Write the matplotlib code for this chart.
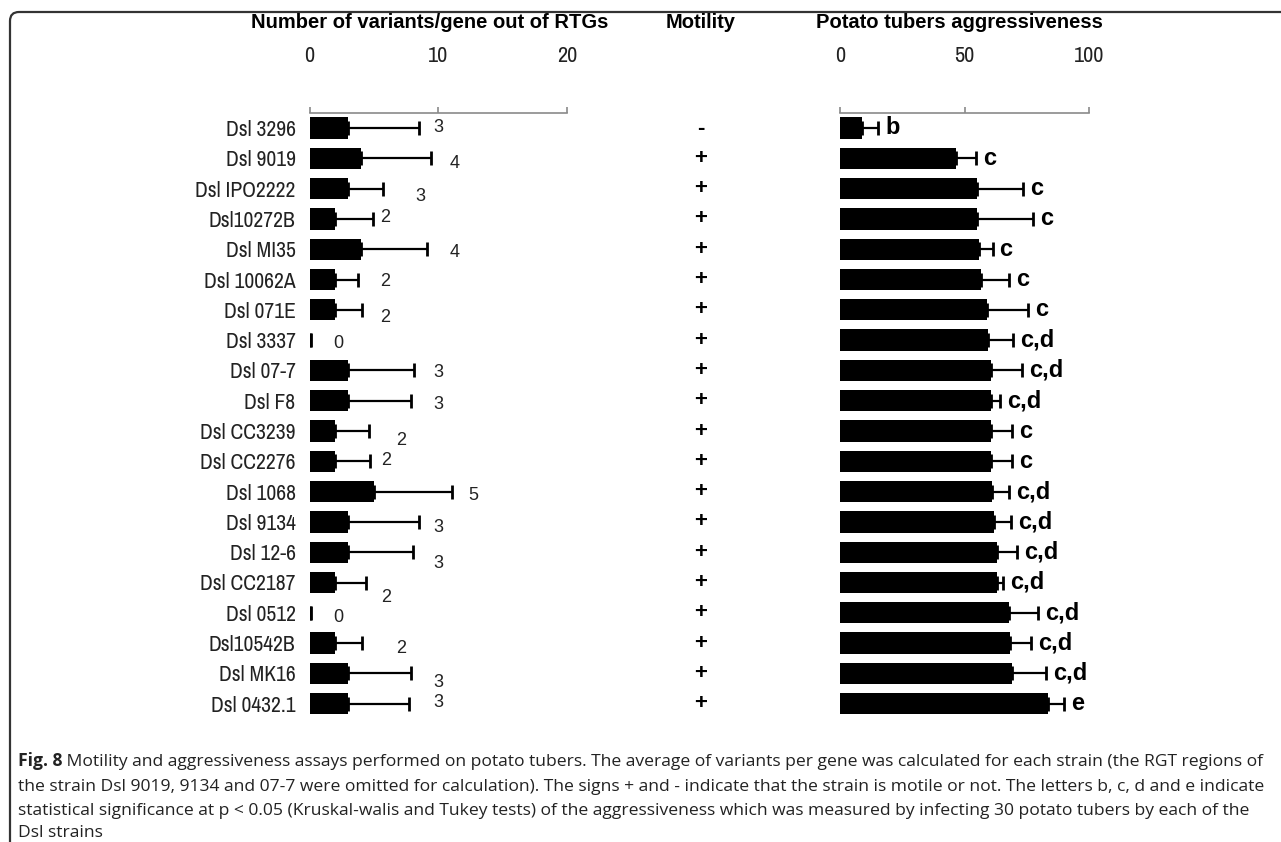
import numpy as np
import matplotlib
matplotlib.use("Agg")
from matplotlib import pyplot as plt
from matplotlib import font_manager, transforms
from matplotlib.patches import FancyBboxPatch

# strains, top to bottom
strains = ["Dsl 3296", "Dsl 9019", "Dsl IPO2222", "Dsl10272B", "Dsl MI35",
           "Dsl 10062A", "Dsl 071E", "Dsl 3337", "Dsl 07-7", "Dsl F8",
           "Dsl CC3239", "Dsl CC2276", "Dsl 1068", "Dsl 9134", "Dsl 12-6",
           "Dsl CC2187", "Dsl 0512", "Dsl10542B", "Dsl MK16", "Dsl 0432.1"]

# variants per gene out of RTGs
variants = [3, 4, 3, 2, 4, 2, 2, 0, 3, 3, 2, 2, 5, 3, 3, 2, 0, 2, 3, 3]
variants_err = [5.5, 5.4, 2.7, 2.9, 5.1, 1.8, 2.1, 0.15, 5.1, 4.9,
                2.6, 2.7, 6.1, 5.5, 5.0, 2.4, 0.15, 2.1, 4.9, 4.7]
# label positions (data x) and vertical nudges (rows) as in the original
variants_lbl_x = [9.6, 10.85, 8.2, 5.5, 10.85, 5.5, 5.5, 1.86, 9.6, 9.6,
                  6.74, 5.6, 12.3, 9.6, 9.6, 5.6, 1.86, 6.74, 9.6, 9.6]
variants_lbl_dy = [0, .17, .26, -.03, .1, .07, .26, .1, .07, .13,
                   .33, -.03, .13, .17, .36, .5, .17, .17, .3, -.03]

motility = ["-"] + ["+"] * 19

# potato tubers aggressiveness
aggr = [8.8, 46.6, 55.0, 55.0, 55.9, 56.6, 59.0, 59.5, 60.6, 60.6,
        60.6, 60.6, 61.0, 61.9, 63.0, 63.2, 68.0, 68.3, 69.0, 83.5]
aggr_err = [6.5, 8.0, 18.5, 22.5, 5.4, 11.3, 16.5, 10.1, 12.4, 3.7,
            8.4, 8.4, 7.0, 6.7, 8.0, 2.4, 11.6, 8.3, 13.7, 6.5]
groups = ["b", "c", "c", "c", "c", "c", "c", "c,d", "c,d", "c,d",
          "c", "c", "c,d", "c,d", "c,d", "c,d", "c,d", "c,d", "c,d", "e"]

caption_lines = [
    "Motility and aggressiveness assays performed on potato tubers. The average of variants per gene was calculated for each strain (the RGT regions of",
    "the strain Dsl 9019, 9134 and 07-7 were omitted for calculation). The signs + and - indicate that the strain is motile or not. The letters b, c, d and e indicate",
    "statistical significance at p < 0.05 (Kruskal-walis and Tukey tests) of the aggressiveness which was measured by infecting 30 potato tubers by each of the",
    "Dsl strains",
]


def pick_font(names):
    for n in names:
        try:
            font_manager.findfont(n, fallback_to_default=False)
            return n
        except Exception:
            pass
    return "DejaVu Sans"


NARROW = pick_font(["Archivo Narrow", "Liberation Sans Narrow", "Liberation Sans"])
ARIAL = pick_font(["Liberation Sans", "Arial"])
CAPF = pick_font(["Open Sans", "Noto Sans"])

W, H = 1281, 842
fig = plt.figure(figsize=(W / 100, H / 100), dpi=100)

# panel frame with rounded top-left corner
frame = FancyBboxPatch((10, -30), 1400, H - 12 + 30,
                       boxstyle="round,pad=0,rounding_size=9",
                       transform=None, fill=False, ec="#333333", lw=1.6)
fig.patches.append(frame)

ax_top, ax_bot = 113, 720
row0, dy = 128, 30.3
ylim = (19 + (ax_bot - row0 - 19 * dy) / dy, -(row0 - ax_top) / dy)


def make_axes(x0, x1):
    return fig.add_axes([x0 / W, (H - ax_bot) / H, (x1 - x0) / W, (ax_bot - ax_top) / H])


y = np.arange(len(strains))

# left panel: variants per gene
ax1 = make_axes(309.5, 567)
ax1.barh(y, variants, height=0.7, color="black")
ax1.errorbar(variants, y, xerr=[np.zeros(len(y)), variants_err], fmt="none",
             ecolor="black", elinewidth=1.6, capsize=5, capthick=2)
for i, v in enumerate(variants):
    ax1.text(variants_lbl_x[i], y[i] + variants_lbl_dy[i], str(v), fontsize=13,
             family=ARIAL, color="#222222", ha="left", va="center")
ax1.set_xlim(0, 20)
ax1.set_xticks([0, 10, 20])
ax1.set_ylim(*ylim)
ax1.set_yticks(y)
ax1.set_yticklabels(strains, family=NARROW, fontsize=15.5, color="#222222")
ax1.tick_params(axis="y", length=0, pad=10)

# right panel: aggressiveness
ax2 = make_axes(840, 1089)
ax2.barh(y, aggr, height=0.7, color="black")
ax2.errorbar(aggr, y, xerr=[np.zeros(len(y)), aggr_err], fmt="none",
             ecolor="black", elinewidth=1.6, capsize=5, capthick=2)
for i in range(len(y)):
    ax2.annotate(groups[i], (aggr[i] + aggr_err[i], y[i]), xytext=(5, 0),
                 textcoords="offset points", fontsize=17, fontweight="bold",
                 family=ARIAL, ha="left", va="center")
ax2.set_xlim(0, 100)
ax2.set_xticks([0, 50, 100])
ax2.set_ylim(*ylim)
ax2.set_yticks([])

for ax in (ax1, ax2):
    for s in ("left", "right", "bottom"):
        ax.spines[s].set_visible(False)
    ax.spines["top"].set_color("#8a8a8a")
    ax.spines["top"].set_linewidth(1.2)
    ax.xaxis.tick_top()
    ax.tick_params(axis="x", direction="out", length=4, width=1.2, color="#8a8a8a",
                   pad=30, labelsize=16, labelcolor="#222222")
    for lab in ax.get_xticklabels():
        lab.set_family(NARROW)
    ax.patch.set_alpha(0)

# motility column
tr = transforms.blended_transform_factory(fig.transFigure, ax1.transData)
for i, m in enumerate(motility):
    fig.text(701 / W, y[i], m, transform=tr, ha="center", va="center",
             fontsize=16, fontweight="bold", family=ARIAL)

# headers
fig.text(430 / W, 1 - 22 / H, "Number of variants/gene out of RTGs", ha="center",
         va="center", fontsize=14.5, fontweight="bold", family=ARIAL)
fig.text(701 / W, 1 - 22 / H, "Motility", ha="center", va="center",
         fontsize=14.5, fontweight="bold", family=ARIAL)
fig.text(959 / W, 1 - 22 / H, "Potato tubers aggressiveness", ha="center",
         va="center", fontsize=14.5, fontweight="bold", family=ARIAL)

# caption
line_y = [766, 791, 815, 837]
t0 = fig.text(18 / W, 1 - line_y[0] / H, "Fig. 8", fontsize=12.6, fontweight="bold",
              family=CAPF, ha="left", va="baseline", color="#222222")
plt.annotate(" " + caption_lines[0], xy=(1, 0), xycoords=t0, fontsize=12.6,
             family=CAPF, ha="left", va="bottom", color="#222222",
             annotation_clip=False)
for k in range(1, 4):
    fig.text(18 / W, 1 - line_y[k] / H, caption_lines[k], fontsize=12.6,
             family=CAPF, ha="left", va="baseline", color="#222222")

fig.savefig("out.png", dpi=100)
